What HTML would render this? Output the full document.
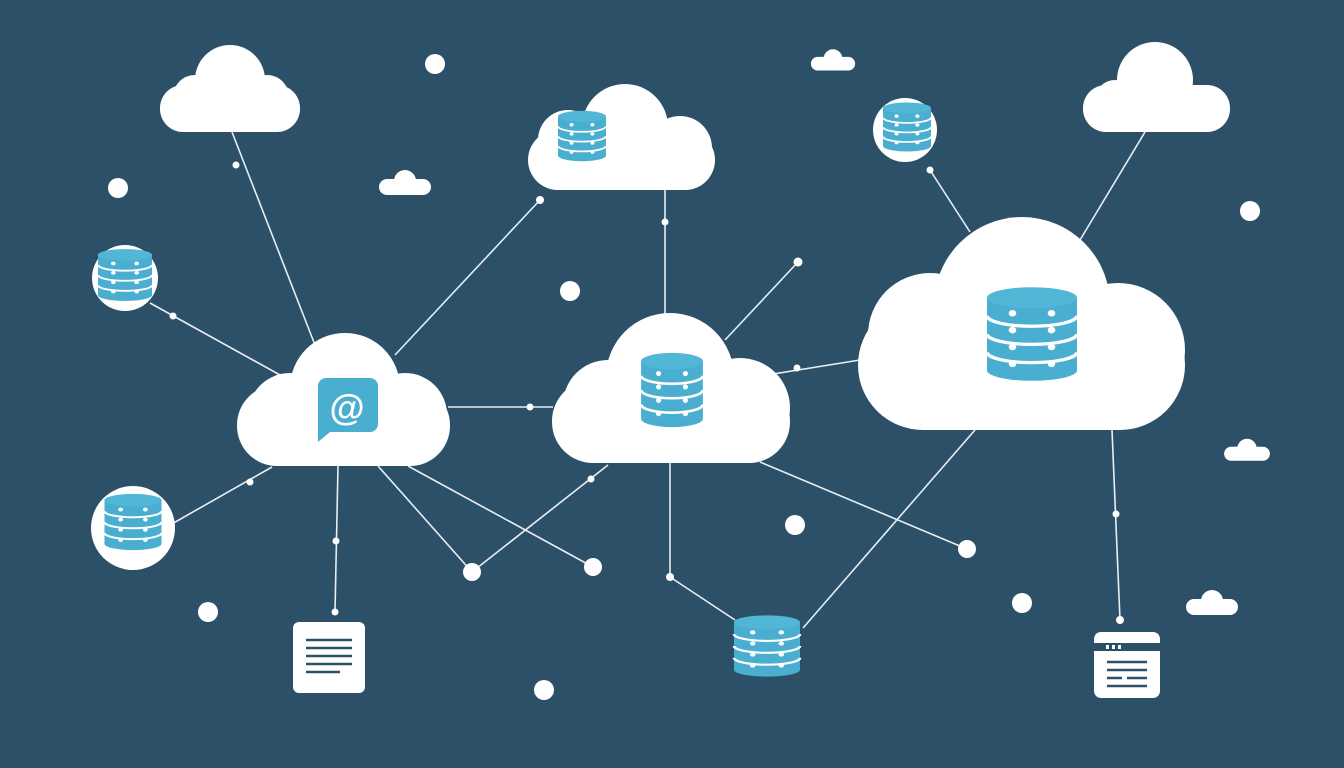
<!DOCTYPE html>
<html><head><meta charset="utf-8"><style>html,body{margin:0;padding:0;background:#2c5068;}svg{display:block}</style></head><body>
<svg width="1344" height="768" viewBox="0 0 1344 768" xmlns="http://www.w3.org/2000/svg">
<defs>
<g id="db">
<path d="M-30,-28 L-30,28 A30,8 0 0 0 30,28 L30,-28 Z" fill="#4aaed0"/>
<ellipse cx="0" cy="-28" rx="30" ry="8" fill="#52b6d6"/>
<g stroke="#fff" stroke-width="2.5" fill="none">
<path d="M-30,-14 A30,8 0 0 0 30,-14"/><path d="M-30,0 A30,8 0 0 0 30,0"/><path d="M-30,14 A30,8 0 0 0 30,14"/></g>
<g fill="#fff"><circle cx="-13" cy="-16" r="2.5"/><circle cx="13" cy="-16" r="2.5"/><circle cx="-13" cy="-3" r="2.5"/><circle cx="13" cy="-3" r="2.5"/><circle cx="-13" cy="10" r="2.5"/><circle cx="13" cy="10" r="2.5"/><circle cx="-13" cy="23" r="2.5"/><circle cx="13" cy="23" r="2.5"/></g>
</g>
<g id="sc"><rect x="-26" y="-6" width="52" height="16" rx="8" fill="#fff"/><circle cx="0" cy="-4" r="11" fill="#fff"/><circle cx="-13" cy="1" r="7" fill="#fff"/></g>
</defs>
<g stroke="#e8eef2" stroke-width="1.6" fill="none">
<line x1="232" y1="132" x2="315" y2="345"/>
<line x1="150" y1="303" x2="280" y2="375"/>
<line x1="395" y1="355" x2="540" y2="200"/>
<line x1="665" y1="190" x2="665" y2="318"/>
<line x1="725" y1="340" x2="798" y2="262"/>
<line x1="755" y1="377" x2="860" y2="360"/>
<line x1="448" y1="407" x2="553" y2="407"/>
<line x1="170" y1="525" x2="272" y2="467"/>
<line x1="338" y1="466" x2="335" y2="612"/>
<line x1="378" y1="466" x2="472" y2="572"/>
<line x1="408" y1="466" x2="593" y2="567"/>
<line x1="472" y1="572" x2="608" y2="465"/>
<polyline points="670,462 670,577 735,620"/>
<line x1="760" y1="462" x2="967" y2="549"/>
<line x1="975" y1="430" x2="803" y2="628"/>
<line x1="1112" y1="430" x2="1120" y2="620"/>
<line x1="930" y1="170" x2="970" y2="232"/>
<line x1="1145" y1="132" x2="1080" y2="240"/>
</g>
<g fill="#fff">
<circle cx="236" cy="165" r="3.5"/><circle cx="173" cy="316" r="3.5"/><circle cx="540" cy="200" r="4"/><circle cx="665" cy="222" r="3.5"/><circle cx="798" cy="262" r="4.5"/><circle cx="797" cy="368" r="3.5"/><circle cx="530" cy="407" r="3.5"/><circle cx="250" cy="482" r="3.5"/><circle cx="336" cy="541" r="3.5"/><circle cx="335" cy="612" r="3.5"/><circle cx="591" cy="479" r="3.5"/><circle cx="670" cy="577" r="4"/><circle cx="1116" cy="514" r="3.5"/><circle cx="1120" cy="620" r="4"/><circle cx="930" cy="170" r="3.5"/>
<circle cx="435" cy="64" r="10"/><circle cx="118" cy="188" r="10"/><circle cx="570" cy="291" r="10"/><circle cx="1250" cy="211" r="10"/><circle cx="795" cy="525" r="10"/><circle cx="208" cy="612" r="10"/><circle cx="544" cy="690" r="10"/><circle cx="1022" cy="603" r="10"/><circle cx="967" cy="549" r="9"/><circle cx="593" cy="567" r="9"/><circle cx="472" cy="572" r="9"/>
<rect x="160" y="85" width="140" height="47" rx="23"/><circle cx="230" cy="80" r="35"/><circle cx="195" cy="97" r="22"/><circle cx="267" cy="97" r="22"/>
<rect x="528" y="130" width="187" height="60" rx="30"/><circle cx="625" cy="127" r="43"/><circle cx="568" cy="140" r="30"/><circle cx="680" cy="148" r="32"/>
<rect x="1083" y="85" width="147" height="47" rx="23"/><circle cx="1155" cy="80" r="38"/><circle cx="1115" cy="100" r="20"/>
<rect x="237" y="385" width="213" height="81" rx="40"/><circle cx="345" cy="388" r="55"/><circle cx="290" cy="415" r="42"/><circle cx="405" cy="415" r="42"/>
<rect x="552" y="380" width="238" height="83" rx="41"/><circle cx="670" cy="377" r="64"/><circle cx="608" cy="405" r="45"/><circle cx="740" cy="408" r="50"/>
<rect x="858" y="300" width="327" height="130" rx="65"/><circle cx="1022" cy="305" r="88"/><circle cx="930" cy="335" r="62"/><circle cx="1118" cy="350" r="67"/>
<circle cx="125" cy="278" r="33"/><circle cx="133" cy="528" r="42"/><circle cx="905" cy="130" r="32"/>
<rect x="293" y="622" width="72" height="71" rx="6"/><rect x="1094" y="632" width="66" height="66" rx="7"/>
</g>
<use href="#sc" x="405" y="185"/><use href="#sc" x="833" y="62" transform="translate(833,62) scale(0.85) translate(-833,-62)"/>
<use href="#sc" x="1247" y="452" transform="translate(1247,452) scale(0.88) translate(-1247,-452)"/><use href="#sc" x="1212" y="605"/>
<use href="#db" transform="translate(672,390) scale(1.03,1.03)"/>
<use href="#db" transform="translate(1032,334) scale(1.5,1.3)"/>
<use href="#db" transform="translate(582,136) scale(0.8,0.7)"/>
<use href="#db" transform="translate(125,275) scale(0.9,0.72)"/>
<use href="#db" transform="translate(133,522) scale(0.95,0.78)"/>
<use href="#db" transform="translate(907,127) scale(0.8,0.68)"/>
<use href="#db" transform="translate(767,646) scale(1.1,0.85)"/>
<path d="M326,378 h44 a8,8 0 0 1 8,8 v38 a8,8 0 0 1 -8,8 h-40 l-12,10 v-56 a8,8 0 0 1 8,-8 z" fill="#4aaed0"/>
<text x="347" y="420" font-family="Liberation Sans, sans-serif" font-size="36" fill="#fff" text-anchor="middle" font-weight="bold">@</text>
<g stroke="#2c5068" stroke-width="2.5">
<line x1="306" y1="640" x2="352" y2="640"/><line x1="306" y1="648" x2="352" y2="648"/><line x1="306" y1="656" x2="352" y2="656"/><line x1="306" y1="664" x2="352" y2="664"/><line x1="306" y1="672" x2="340" y2="672"/>
<line x1="1107" y1="662" x2="1147" y2="662"/><line x1="1107" y1="670" x2="1147" y2="670"/><line x1="1107" y1="678" x2="1122" y2="678"/><line x1="1127" y1="678" x2="1147" y2="678"/><line x1="1107" y1="686" x2="1147" y2="686"/>
</g>
<rect x="1094" y="643" width="66" height="8" fill="#2c5068"/>
<g fill="#fff"><rect x="1106" y="645" width="3" height="4"/><rect x="1112" y="645" width="3" height="4"/><rect x="1118" y="645" width="3" height="4"/></g>
</svg>
</body></html>
